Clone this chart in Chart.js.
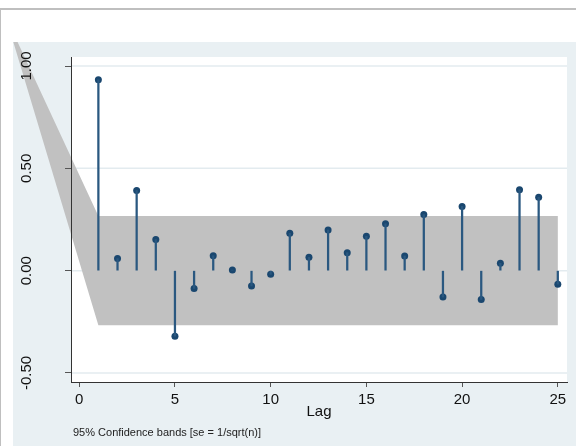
<!DOCTYPE html>
<html>
<head>
<meta charset="utf-8">
<script src="https://cdn.jsdelivr.net/npm/chart.js@4"></script>
<style>
body{margin:0;background:#fff;width:576px;height:446px;overflow:hidden;position:relative}
#frame{position:absolute;left:0;top:8px;width:575px;height:436px;border-top:2px solid #bfbfbf;border-left:1px solid #bfbfbf}
#graph{position:absolute;left:13px;top:42px;width:563px;height:404px;background:#e9f0f3}
</style>
</head>
<body>
<div id="frame"></div>
<div id="graph"><canvas id="pacChart" width="563" height="404"></canvas></div>
<script>

// DATA

const lags = [1,2,3,4,5,6,7,8,9,10,11,12,13,14,15,16,17,18,19,20,21,22,23,24,25]
const pacValues = [0.933,0.059,0.392,0.152,-0.32,-0.087,0.073,0.003,-0.075,-0.018,0.183,0.065,0.199,0.088,0.168,0.229,0.072,0.274,-0.129,0.314,-0.141,0.036,0.395,0.359,-0.066]

const bandLags = [-3.85,1,25]
const bandUpper = [1.244,0.267,0.267]
const bandLower = [1.244,-0.267,-0.267]

const xTicks = [0,5,10,15,20,25]
const yTicks = [-0.5,0,0.5,1]

const navy = '#1a476f'
const font = "'Liberation Sans', Arial, sans-serif"


// PLOT BACKGROUND, GRID AND BAND

const backPlugin = {
id:'back',
beforeDraw(chart){
let c = chart.ctx
let a = chart.chartArea
let y = chart.scales.y

c.save()
c.fillStyle = '#ffffff'
c.fillRect(a.left,a.top,a.right-a.left,a.bottom-a.top)

c.strokeStyle = '#e3ebef'
c.lineWidth = 1.5
for(let i=0;i<y.ticks.length;i++){
let py = y.getPixelForValue(y.ticks[i].value)
c.beginPath()
c.moveTo(a.left,py)
c.lineTo(a.right,py)
c.stroke()
}

let up = chart.getDatasetMeta(0).data
let lo = chart.getDatasetMeta(1).data
c.fillStyle = '#c1c1c1'
c.beginPath()
c.moveTo(up[0].x,up[0].y)
for(let i=1;i<up.length;i++) c.lineTo(up[i].x,up[i].y)
for(let i=lo.length-1;i>=0;i--) c.lineTo(lo[i].x,lo[i].y)
c.closePath()
c.fill()
c.restore()
},
afterDraw(chart){
let c = chart.ctx
c.save()
c.fillStyle = '#222'
c.font = '11px ' + font
c.textBaseline = 'middle'
c.fillText('95% Confidence bands [se = 1/sqrt(n)]', chart.chartArea.left+2, 391)
c.restore()
}
}


// CHART

new Chart(document.getElementById('pacChart'), {

type:'bar',

data:{

datasets:[
{
type:'line',
data:bandLags.map((l,i)=>({x:l,y:bandUpper[i]})),
showLine:false,
pointRadius:0
},
{
type:'line',
data:bandLags.map((l,i)=>({x:l,y:bandLower[i]})),
showLine:false,
pointRadius:0
},
{
type:'bar',
data:lags.map((l,i)=>({x:l,y:pacValues[i]})),
backgroundColor:'#2a5880',
barThickness:1.6
},
{
type:'scatter',
data:lags.map((l,i)=>({x:l,y:pacValues[i]})),
backgroundColor:navy,
borderWidth:0,
pointRadius:3.5
}
]

},

options:{

responsive:false,
animation:false,
events:[],

layout:{padding:{left:0,top:15,right:9,bottom:0}},

plugins:{
legend:{display:false},
tooltip:{enabled:false}
},

scales:{

x:{
type:'linear',
offset:false,
min:-0.43,
max:25.48,
afterBuildTicks:s=>{ s.ticks = xTicks.map(v=>({value:v})) },
afterFit:s=>{ s.height = 64 },
grid:{drawOnChartArea:false,offset:false,tickLength:5,tickColor:'#555'},
border:{color:'#333',width:1},
ticks:{color:'#111',padding:4,font:{family:font,size:15},maxRotation:0,callback:v=>String(v)},
title:{display:true,text:'Lag',color:'#111',font:{family:font,size:15},padding:{top:0,bottom:25}}
},

y:{
min:-0.544,
max:1.044,
afterBuildTicks:s=>{ s.ticks = yTicks.map(v=>({value:v})) },
afterFit:s=>{ s.width = 58; s.paddingTop = 0; s.paddingBottom = 0 },
grid:{drawOnChartArea:false,tickLength:6,tickColor:'#555'},
border:{color:'#333',width:1},
ticks:{color:'#111',padding:21,crossAlign:'center',minRotation:90,maxRotation:90,font:{family:font,size:15},callback:v=>v.toFixed(2)}
}

}

},

plugins:[backPlugin]

})

</script>
</body>
</html>
